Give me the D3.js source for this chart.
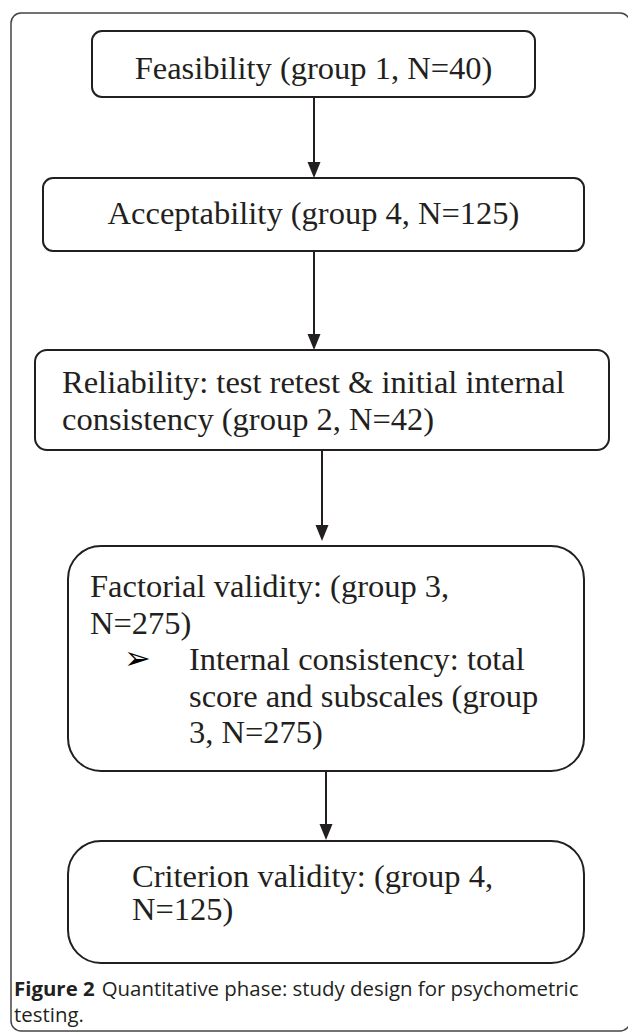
<!DOCTYPE html>
<html>
<head>
<meta charset="utf-8">
<script src="https://cdn.jsdelivr.net/npm/d3@7"></script>
<style>
  body { margin: 0; background: #fff; }
  svg { display: block; }
</style>
</head>
<body>
<div id="chart"></div>
<script>
var width = 628,
    height = 1033;

// text of each step in the flow
var stepLines = [
  ["Feasibility (group 1, N=40)"],
  ["Acceptability (group 4, N=125)"],
  ["Reliability: test retest & initial internal", "consistency (group 2, N=42)"],
  ["Factorial validity: (group 3,", "N=275)"],
  ["Criterion validity: (group 4,", "N=125)"]
];

// bullet item inside the factorial validity box
var bulletLines = ["Internal consistency: total", "score and subscales (group", "3, N=275)"];

var captionBold = "Figure 2";
var captionLines = ["Quantitative phase: study design for psychometric", "testing."];

// layout of the boxes (pixel geometry of the figure)
var boxLayout = [
  { x0: 92, x1: 535, y0: 31,  y1: 97,  rx: 10, anchor: "middle", tx: 313.5, ty: 79,  lh: 37 },
  { x0: 43, x1: 584, y0: 178, y1: 251, rx: 10, anchor: "middle", tx: 313.5, ty: 224, lh: 37 },
  { x0: 35, x1: 609, y0: 350, y1: 450, rx: 12, anchor: "start",  tx: 62,    ty: 393, lh: 37 },
  { x0: 68, x1: 584, y0: 546, y1: 771, rx: 33, anchor: "start",  tx: 90,    ty: 597, lh: 36.5 },
  { x0: 68, x1: 584, y0: 841, y1: 963, rx: 33, anchor: "start",  tx: 132,   ty: 887, lh: 33 }
];

var arrowX = [314, 314, 322, 326];
var arrowGap = [0, 0, 5, 1];

var ink = "#231f20";

var svg = d3.select("#chart")
  .append("svg")
  .attr("width", width)
  .attr("height", height);

// outer frame, its right side runs off the page
svg.append("rect")
  .attr("x", 11)
  .attr("y", 13)
  .attr("width", 630 - 11)
  .attr("height", 1031 - 13)
  .attr("rx", 10)
  .attr("fill", "none")
  .attr("stroke", "#444")
  .attr("stroke-width", 1.5);

// arrows between consecutive boxes
var links = d3.pairs(boxLayout).map(function(p, i) {
  return { x: arrowX[i], y0: p[0].y1, y1: p[1].y0 - arrowGap[i] };
});

svg.selectAll(".link")
  .data(links)
  .enter().append("line")
  .attr("class", "link")
  .attr("x1", function(d) { return d.x; })
  .attr("x2", function(d) { return d.x; })
  .attr("y1", function(d) { return d.y0; })
  .attr("y2", function(d) { return d.y1 - 14; })
  .attr("stroke", ink)
  .attr("stroke-width", 2);

svg.selectAll(".head")
  .data(links)
  .enter().append("path")
  .attr("class", "head")
  .attr("d", function(d) {
    return "M" + (d.x - 6.5) + "," + (d.y1 - 16) + "L" + (d.x + 6.5) + "," + (d.y1 - 16) + "L" + d.x + "," + d.y1 + "Z";
  })
  .attr("fill", ink);

// boxes
var steps = svg.selectAll(".step")
  .data(boxLayout)
  .enter().append("g")
  .attr("class", "step");

steps.append("rect")
  .attr("x", function(d) { return d.x0; })
  .attr("y", function(d) { return d.y0; })
  .attr("width", function(d) { return d.x1 - d.x0; })
  .attr("height", function(d) { return d.y1 - d.y0; })
  .attr("rx", function(d) { return d.rx; })
  .attr("fill", "#fff")
  .attr("stroke", ink)
  .attr("stroke-width", 2);

steps.each(function(d, i) {
  var t = d3.select(this).append("text")
    .attr("font-family", "'Liberation Serif', 'Times New Roman', serif")
    .attr("font-size", 32.5)
    .attr("fill", ink)
    .attr("text-anchor", d.anchor);
  t.selectAll("tspan")
    .data(stepLines[i])
    .enter().append("tspan")
    .attr("x", d.tx)
    .attr("y", function(line, j) { return d.ty + j * d.lh; })
    .text(function(line) { return line; });
});

// bullet list in box 4
var b = boxLayout[3];
var bulletTop = b.ty + 2 * b.lh;

svg.append("text")
  .attr("x", 124)
  .attr("y", bulletTop - 1)
  .attr("font-family", "'DejaVu Sans', sans-serif")
  .attr("font-size", 32)
  .attr("fill", "#000")
  .text("\u27A2");

svg.append("text")
  .attr("font-family", "'Liberation Serif', 'Times New Roman', serif")
  .attr("font-size", 32.5)
  .attr("fill", ink)
  .selectAll("tspan")
  .data(bulletLines)
  .enter().append("tspan")
  .attr("x", 189)
  .attr("y", function(line, j) { return bulletTop + j * b.lh; })
  .text(function(line) { return line; });

// caption, bold label then plain text
var capFont = "'Open Sans', 'Noto Sans', sans-serif";
var capBold = svg.append("text")
  .attr("x", 14).attr("y", 996)
  .attr("font-family", capFont)
  .attr("font-weight", 700)
  .attr("font-size", 18)
  .attr("fill", ink)
  .text(captionBold);
var capRest = svg.append("text")
  .attr("y", 996)
  .attr("font-family", capFont)
  .attr("font-size", 18)
  .attr("fill", ink)
  .text(captionLines[0]);
var capLine2 = svg.append("text")
  .attr("x", 14).attr("y", 1022)
  .attr("font-family", capFont)
  .attr("font-size", 18)
  .attr("fill", ink)
  .text(captionLines[1]);

// fit the first caption line to the width seen in the figure
var bw = capBold.node().getComputedTextLength(),
    rw = capRest.node().getComputedTextLength(),
    gap = 18 * 0.34;
var s = 565 / (bw + gap + rw);
capBold.attr("font-size", 18 * s);
capRest.attr("font-size", 18 * s).attr("x", 14 + (bw + gap) * s);
capLine2.attr("font-size", 18 * s);
</script>
</body>
</html>
